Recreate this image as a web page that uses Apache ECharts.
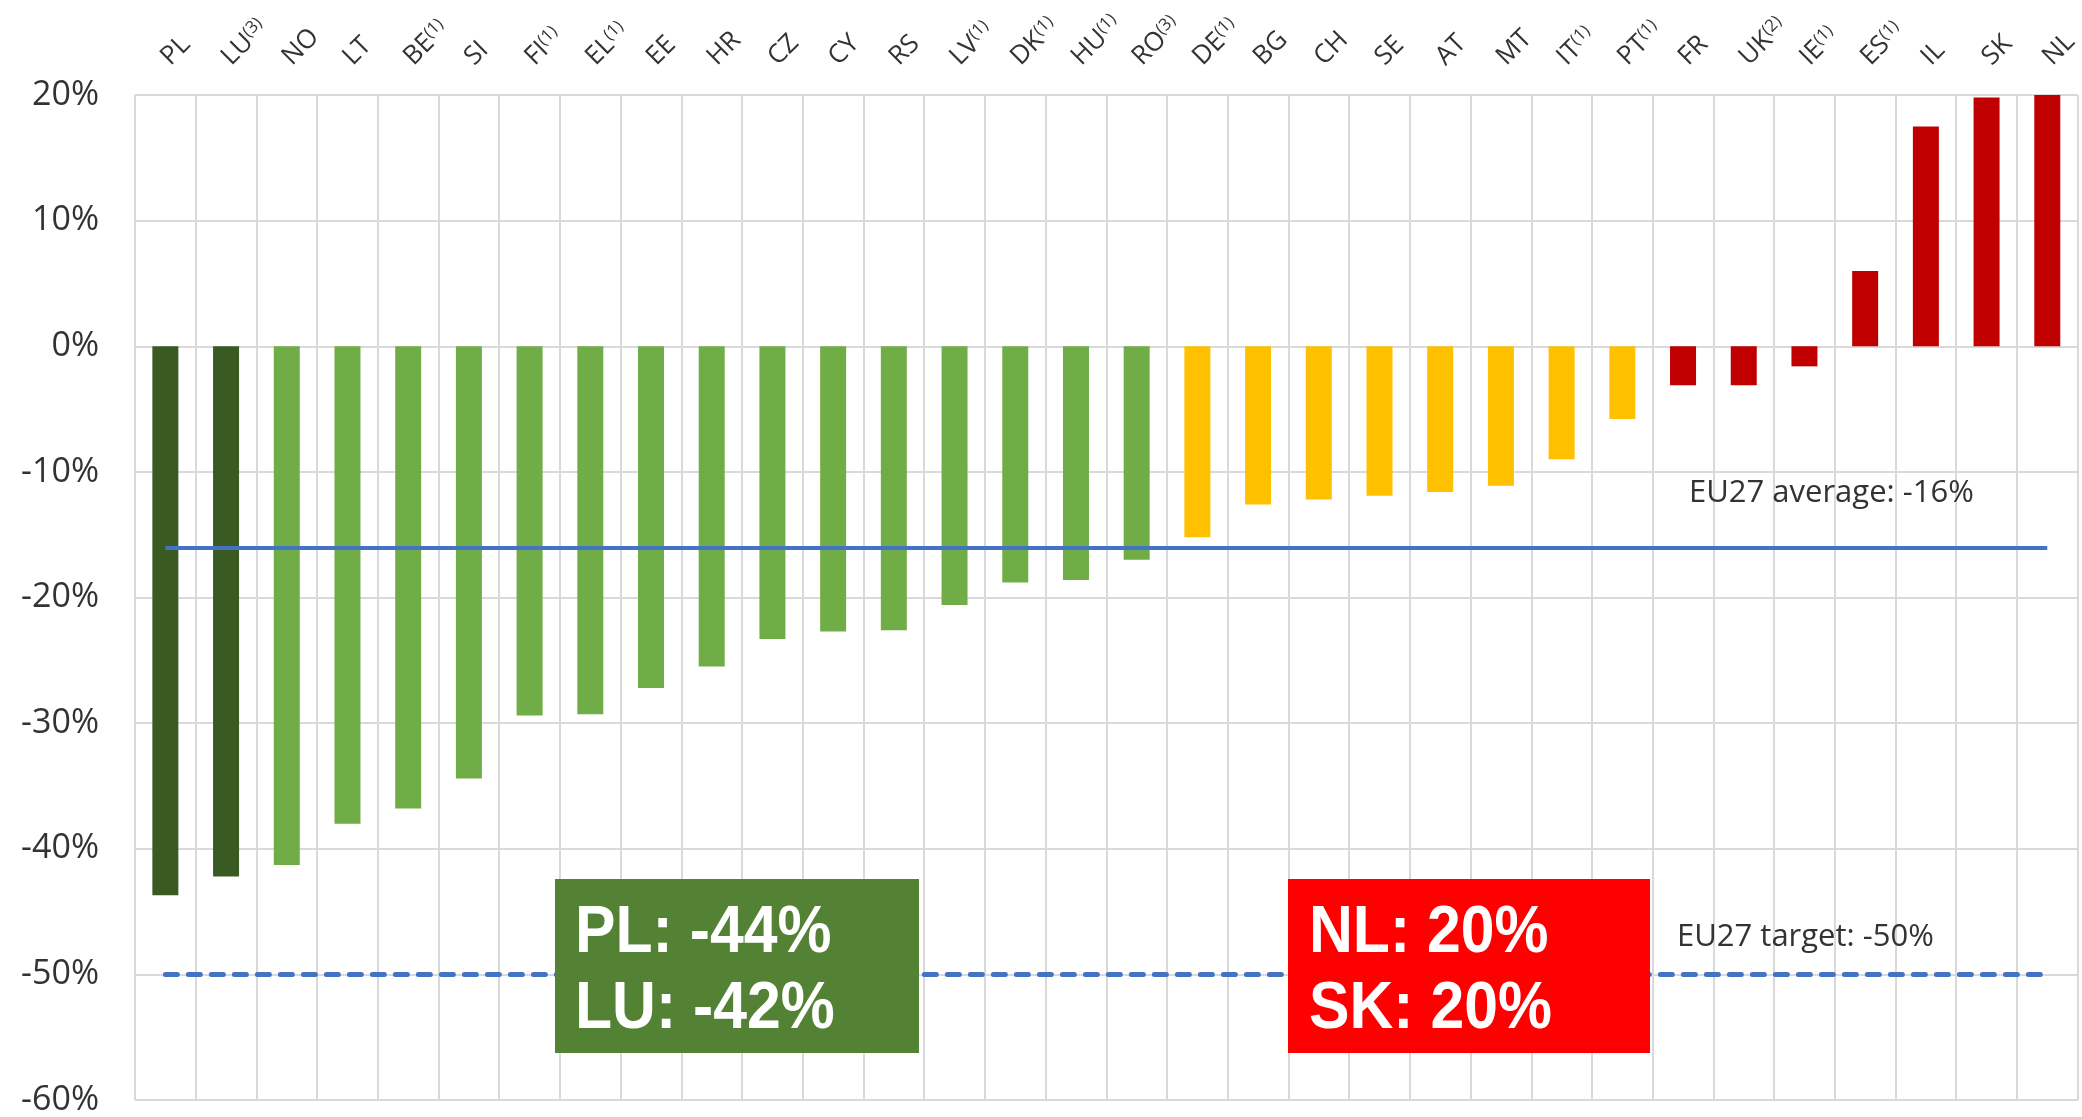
<!DOCTYPE html>
<html>
<head>
<meta charset="utf-8">
<script src="https://cdn.jsdelivr.net/npm/echarts@6/dist/echarts.min.js"></script>
<style>
html,body{margin:0;padding:0;background:#fff;}
#chart{width:2082px;height:1117px;}
</style>
</head>
<body>
<div id="chart"></div>
<script>
// ---- data ----
const categories = ['PL','LU','NO','LT','BE','SI','FI','EL','EE','HR','CZ','CY','RS','LV','DK','HU','RO','DE','BG','CH','SE','AT','MT','IT','PT','FR','UK','IE','ES','IL','SK','NL'];
const notes      = ['', '3', '', '', '1', '', '1', '1', '', '', '', '', '', '1', '1', '1', '3', '1', '', '', '', '', '', '1', '1', '', '2', '1', '1', '', '', ''];
const values     = [-43.7,-42.2,-41.3,-38.0,-36.8,-34.4,-29.4,-29.3,-27.2,-25.5,-23.3,-22.7,-22.6,-20.6,-18.8,-18.6,-17.0,-15.2,-12.6,-12.2,-11.9,-11.6,-11.1,-9.0,-5.8,-3.1,-3.1,-1.6,6.0,17.5,19.8,20.0];
const groups     = ['best','best','good','good','good','good','good','good','good','good','good','good','good','good','good','good','good','mid','mid','mid','mid','mid','mid','mid','mid','bad','bad','bad','bad','bad','bad','bad'];
const euAverage = -16;
const euTarget = -50;
const yTicks = {min: -60, max: 20, interval: 10};

// ---- styles ----
const groupColors = {best:'#3A5A24', good:'#70AD47', mid:'#FFC000', bad:'#C00000'};
const textColor = '#333333';

const chart = echarts.init(document.getElementById('chart'));
const option = {
  animation: false,
  backgroundColor: '#ffffff',
  grid: {left: 135, right: 2, top: 95, bottom: 16},
  xAxis: {
    type: 'category',
    position: 'top',
    data: categories,
    axisLine: {show: false, onZero: false},
    axisTick: {show: false},
    splitLine: {show: true, lineStyle: {color: '#d9d9d9', width: 2}},
    axisLabel: {
      interval: 0,
      rotate: -45,
      margin: 34,
      formatter: (v, i) => notes[i] ? `{m|${v}}{s|(${notes[i]})}` : `{m|${v}}`,
      rich: {
        m: {fontFamily: 'Open Sans', fontSize: 26, color: textColor},
        s: {fontFamily: 'Open Sans', fontSize: 17, color: textColor, verticalAlign: 'top', padding: [0,0,10,0]}
      }
    }
  },
  yAxis: {
    type: 'value',
    min: yTicks.min, max: yTicks.max, interval: yTicks.interval,
    axisLine: {show: false},
    axisTick: {show: false},
    splitLine: {show: true, lineStyle: {color: '#d9d9d9', width: 2}},
    axisLabel: {formatter: '{value}%', fontFamily: 'Open Sans', fontSize: 34, color: textColor, margin: 36}
  },
  series: [{
    type: 'bar',
    barWidth: 26,
    data: values.map((v, i) => ({value: v, itemStyle: {color: groupColors[groups[i]]}})),
    markLine: {
      silent: true,
      symbol: 'none',
      label: {show: false},
      data: [
        [{coord: [categories[0], euAverage], lineStyle: {color: '#4472C4', width: 4, type: 'solid'}},
         {coord: [categories[categories.length - 1], euAverage]}],
        [{coord: [categories[0], euTarget], lineStyle: {color: '#4472C4', width: 5, type: [12, 11], cap: 'round'}},
         {coord: [categories[categories.length - 1], euTarget]}]
      ]
    }
  }]
};
chart.setOption(option);

// annotation text and boxes
const avgY = chart.convertToPixel({yAxisIndex: 0}, euAverage);
const tgtY = chart.convertToPixel({yAxisIndex: 0}, euTarget);
const boxFont = 'bold 66px "Liberation Sans", sans-serif';
chart.setOption({
  graphic: [
    {type: 'text', left: 1689, top: avgY - 70, z: 10,
     style: {text: 'EU27 average: ' + euAverage + '%', font: '31px "Open Sans"', fill: '#333333'}},
    {type: 'text', left: 1677, top: tgtY - 53, z: 10,
     style: {text: 'EU27 target: ' + euTarget + '%', font: '31px "Open Sans"', fill: '#333333'}},
    {type: 'rect', shape: {x: 555, y: 879, width: 364, height: 174}, style: {fill: '#548235'}, z: 20},
    {type: 'text', x: 575, y: 896, scaleX: 0.92, z: 21,
     style: {text: 'PL: ' + Math.round(values[0]) + '%\nLU: ' + Math.round(values[1]) + '%', font: boxFont, fill: '#ffffff', lineHeight: 76}},
    {type: 'rect', shape: {x: 1288, y: 879, width: 362, height: 174}, style: {fill: '#FF0000'}, z: 20},
    {type: 'text', x: 1309, y: 896, scaleX: 0.92, z: 21,
     style: {text: 'NL: ' + Math.round(values[31]) + '%\nSK: ' + Math.round(values[30]) + '%', font: boxFont, fill: '#ffffff', lineHeight: 76}}
  ]
});
</script>
</body>
</html>
